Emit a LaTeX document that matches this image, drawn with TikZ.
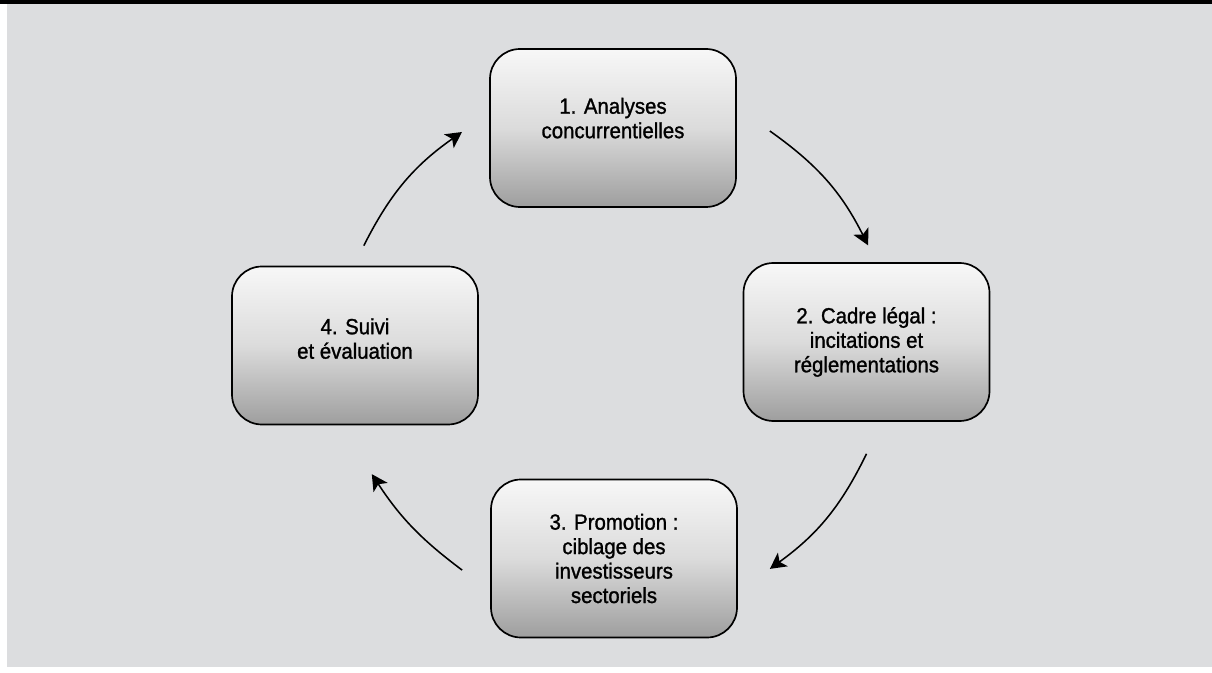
\documentclass[tikz,border=0pt]{standalone}
\usepackage{fontspec}
\setmainfont{Liberation Sans}[FakeBold=1.2,FakeStretch=0.93]
\usetikzlibrary{arrows.meta}

\definecolor{bggray}{RGB}{220,221,223}

\begin{document}
\begin{tikzpicture}
            \useasboundingbox (0,0) rectangle (30.3,16.825);
            \fill[white] (0,0) rectangle (30.3,16.825);
            \fill[bggray] (0.175,0.15) rectangle (30.3,16.725);
            \fill[black] (0,16.725) rectangle (30.3,16.825);

            \begin{scope}[every node/.style={draw=black, line width=1.2pt, rounded corners=0.75cm,
                    top color=white!97!black, bottom color=white!62!black, middle color=white!86!black,
                    minimum width=6.15cm, minimum height=3.95cm, inner sep=0pt, align=center,
                    font=\fontsize{15.6pt}{17.4pt}\selectfont}]
                \node[text depth=0.5cm] (ana) at (15.325,13.625) {1. Analyses\\concurrentielles};
                \node (cad) at (21.6625,8.275) {2. Cadre légal :\\incitations et\\réglementations};
                \node (pro) at (15.35,2.8625) {3. Promotion :\\ciblage des\\investisseurs\\sectoriels};
                \node[text depth=0.35cm] (sui) at (8.875,8.1875) {4. Suivi\\et évaluation};
            \end{scope}
            \begin{scope}[every edge/.style={draw, line width=1.1pt, -{Stealth[length=0.4cm,width=0.42cm,inset=0.1cm]}}]
                \path ([xshift=0.825cm,yshift=-0.075cm]ana.east) edge[bend left=14] ([xshift=0.04cm,yshift=0.42cm]cad.north);
                \path ([yshift=-0.8cm]cad.south) edge[bend left=14] ([xshift=0.8cm,yshift=-0.26cm]pro.east);
                \path ([xshift=-0.7cm,yshift=-0.29cm]pro.west) edge[bend left=10] ([xshift=0.42cm,yshift=-1.22cm]sui.south);
                \path ([xshift=0.22cm,yshift=0.5cm]sui.north) edge[bend left=14] ([xshift=-0.68cm,yshift=-0.1cm]ana.west);
            \end{scope}
        \end{tikzpicture}
\end{document}
